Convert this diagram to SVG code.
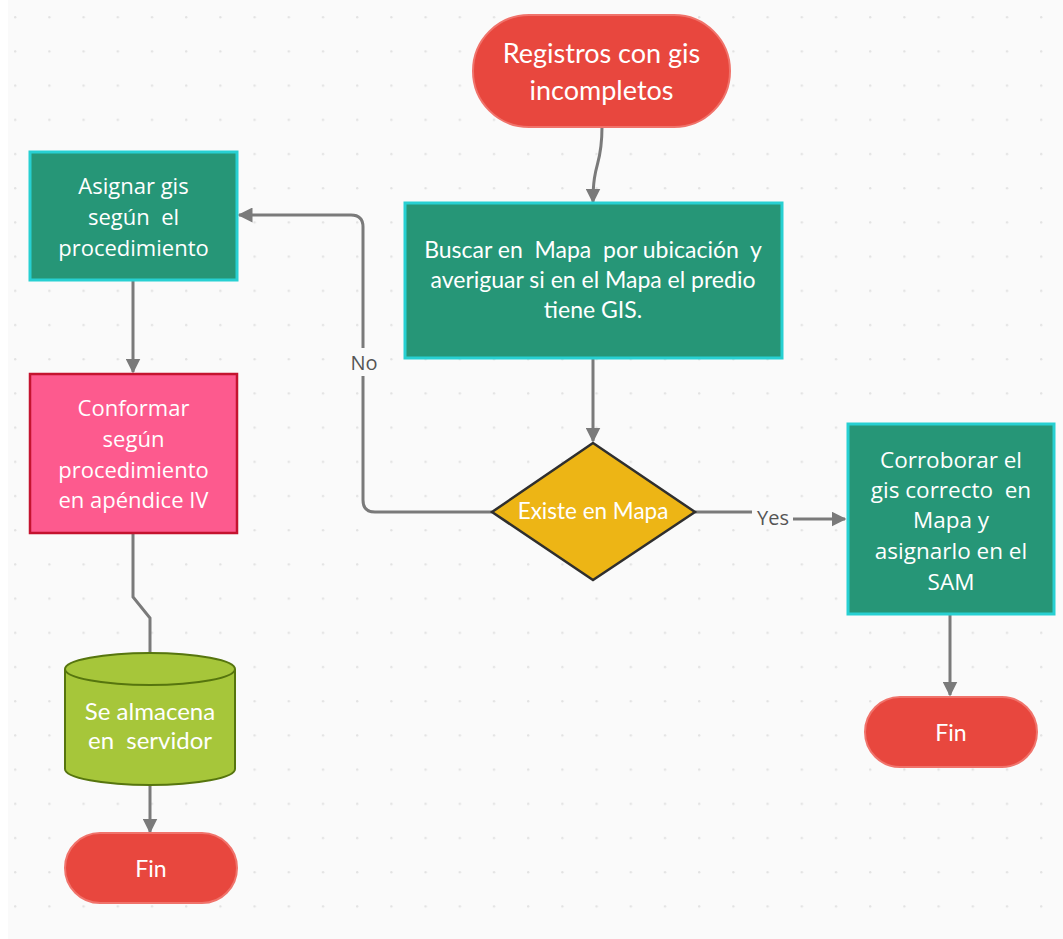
<svg xmlns="http://www.w3.org/2000/svg" width="1063" height="939" viewBox="0 0 1063 939">
  <defs>
    <pattern id="grid" x="14" y="16" width="34.2" height="34.2" patternUnits="userSpaceOnUse">
      <circle cx="1.2" cy="1.2" r="1.2" fill="#e2e2e2"/>
    </pattern>
    <marker id="arrow" viewBox="0 0 10 10" refX="9" refY="5" markerWidth="5" markerHeight="5" orient="auto" markerUnits="strokeWidth">
      <path d="M0,0 L10,5 L0,10 Z" fill="#7a7a7a"/>
    </marker>
    <style>
      .conn { fill: none; stroke: #7a7a7a; stroke-width: 3; }
      .term { fill: #e8473e; stroke: #f0736b; stroke-width: 2; }
      .proc { fill: #269677; stroke: #27d0d2; stroke-width: 3; }
      .pink { fill: #fd5a8e; stroke: #c4132f; stroke-width: 2.5; }
      .dec { fill: #edb515; stroke: #2f2f2f; stroke-width: 2.5; }
      .db { fill: #a6c63a; stroke: #56750e; stroke-width: 2; }
      .t { fill: #ffffff; text-anchor: middle; font-family: Lato, "Open Sans", sans-serif; }
      .o { fill: #ffffff; text-anchor: middle; font-family: "Open Sans", "Noto Sans", sans-serif; }
      .lbl { fill: #555555; text-anchor: middle; font-family: "Open Sans", "Noto Sans", sans-serif; font-size: 20px; }
    </style>
  </defs>

  <!-- canvas -->
  <rect x="0" y="0" width="1063" height="939" fill="#ffffff"/>
  <rect x="8" y="0" width="1055" height="939" fill="#fafafa"/>
  <rect x="8" y="0" width="1055" height="939" fill="url(#grid)"/>

  <!-- connectors -->
  <g id="connectors">
    <path class="conn" d="M602,127 C602,168 593,160 593,202" marker-end="url(#arrow)"/>
    <path class="conn" d="M593,358 L593,441" marker-end="url(#arrow)"/>
    <path class="conn" d="M492,512 L375,512 Q363,512 363,500 L363,227 Q363,215 351,215 L239,215" marker-end="url(#arrow)"/>
    <path class="conn" d="M695,512 L752,512"/>
    <path class="conn" d="M793,519 L845,519" marker-end="url(#arrow)"/>
    <path class="conn" d="M133,280 L133,372" marker-end="url(#arrow)"/>
    <path class="conn" d="M133,533 L133,597 L150,618 L150,654"/>
    <path class="conn" d="M150,785 L150,832" marker-end="url(#arrow)"/>
    <path class="conn" d="M950,614 L950,695" marker-end="url(#arrow)"/>
    <rect x="344" y="348" width="38" height="28" fill="#fafafa"/>
    <text class="lbl" x="364" y="370">No</text>
    <text class="lbl" x="773" y="525">Yes</text>
  </g>

  <g id="start">
    <rect class="term" x="473" y="15" width="257" height="112" rx="56" ry="56"/>
    <text class="t" font-size="27" x="601.5" y="63">Registros con gis</text>
    <text class="t" font-size="27" x="601.5" y="100">incompletos</text>
  </g>

  <g id="buscar">
    <rect class="proc" x="405" y="203" width="377" height="155"/>
    <text class="t" font-size="23" x="593" y="258" xml:space="preserve">Buscar en  Mapa  por ubicación  y</text>
    <text class="t" font-size="23" x="593" y="288">averiguar si en el Mapa el predio</text>
    <text class="t" font-size="23" x="593" y="318">tiene GIS.</text>
  </g>

  <g id="existe">
    <polygon class="dec" points="593,443 695,512 593,580 492,512"/>
    <text class="t" font-size="22.5" x="593" y="519">Existe en Mapa</text>
  </g>

  <g id="asignar">
    <rect class="proc" x="30" y="152" width="207" height="128"/>
    <text class="o" font-size="22" x="133.5" y="194">Asignar gis</text>
    <text class="o" font-size="22" x="133.5" y="225" xml:space="preserve">según  el</text>
    <text class="o" font-size="22" x="133.5" y="256">procedimiento</text>
  </g>

  <g id="conformar">
    <rect class="pink" x="30" y="374" width="207" height="159"/>
    <text class="o" font-size="22" x="133.5" y="416">Conformar</text>
    <text class="o" font-size="22" x="133.5" y="447">según</text>
    <text class="o" font-size="22" x="133.5" y="478">procedimiento</text>
    <text class="o" font-size="22" x="133.5" y="508">en apéndice IV</text>
  </g>

  <g id="servidor">
    <path class="db" d="M65,669 L65,769 A85,16 0 0 0 235,769 L235,669 A85,16 0 0 0 65,669 Z"/>
    <path class="db" d="M65,669 A85,16 0 0 0 235,669" fill="none"/>
    <text class="t" font-size="24" x="150" y="720">Se almacena</text>
    <text class="t" font-size="24" x="150" y="749" xml:space="preserve">en  servidor</text>
  </g>

  <g id="fin-left">
    <rect class="term" x="65" y="833" width="172" height="70" rx="35" ry="35"/>
    <text class="t" font-size="23" x="151" y="877">Fin</text>
  </g>

  <g id="corroborar">
    <rect class="proc" x="848" y="424" width="206" height="190"/>
    <text class="o" font-size="22.5" x="951" y="468">Corroborar el</text>
    <text class="o" font-size="22.5" x="951" y="498" xml:space="preserve">gis correcto  en</text>
    <text class="o" font-size="22.5" x="951" y="528">Mapa y</text>
    <text class="o" font-size="22.5" x="951" y="559">asignarlo en el</text>
    <text class="o" font-size="22.5" x="951" y="590">SAM</text>
  </g>

  <g id="fin-right">
    <rect class="term" x="865" y="697" width="172" height="70" rx="35" ry="35"/>
    <text class="t" font-size="23" x="951" y="741">Fin</text>
  </g>
</svg>
